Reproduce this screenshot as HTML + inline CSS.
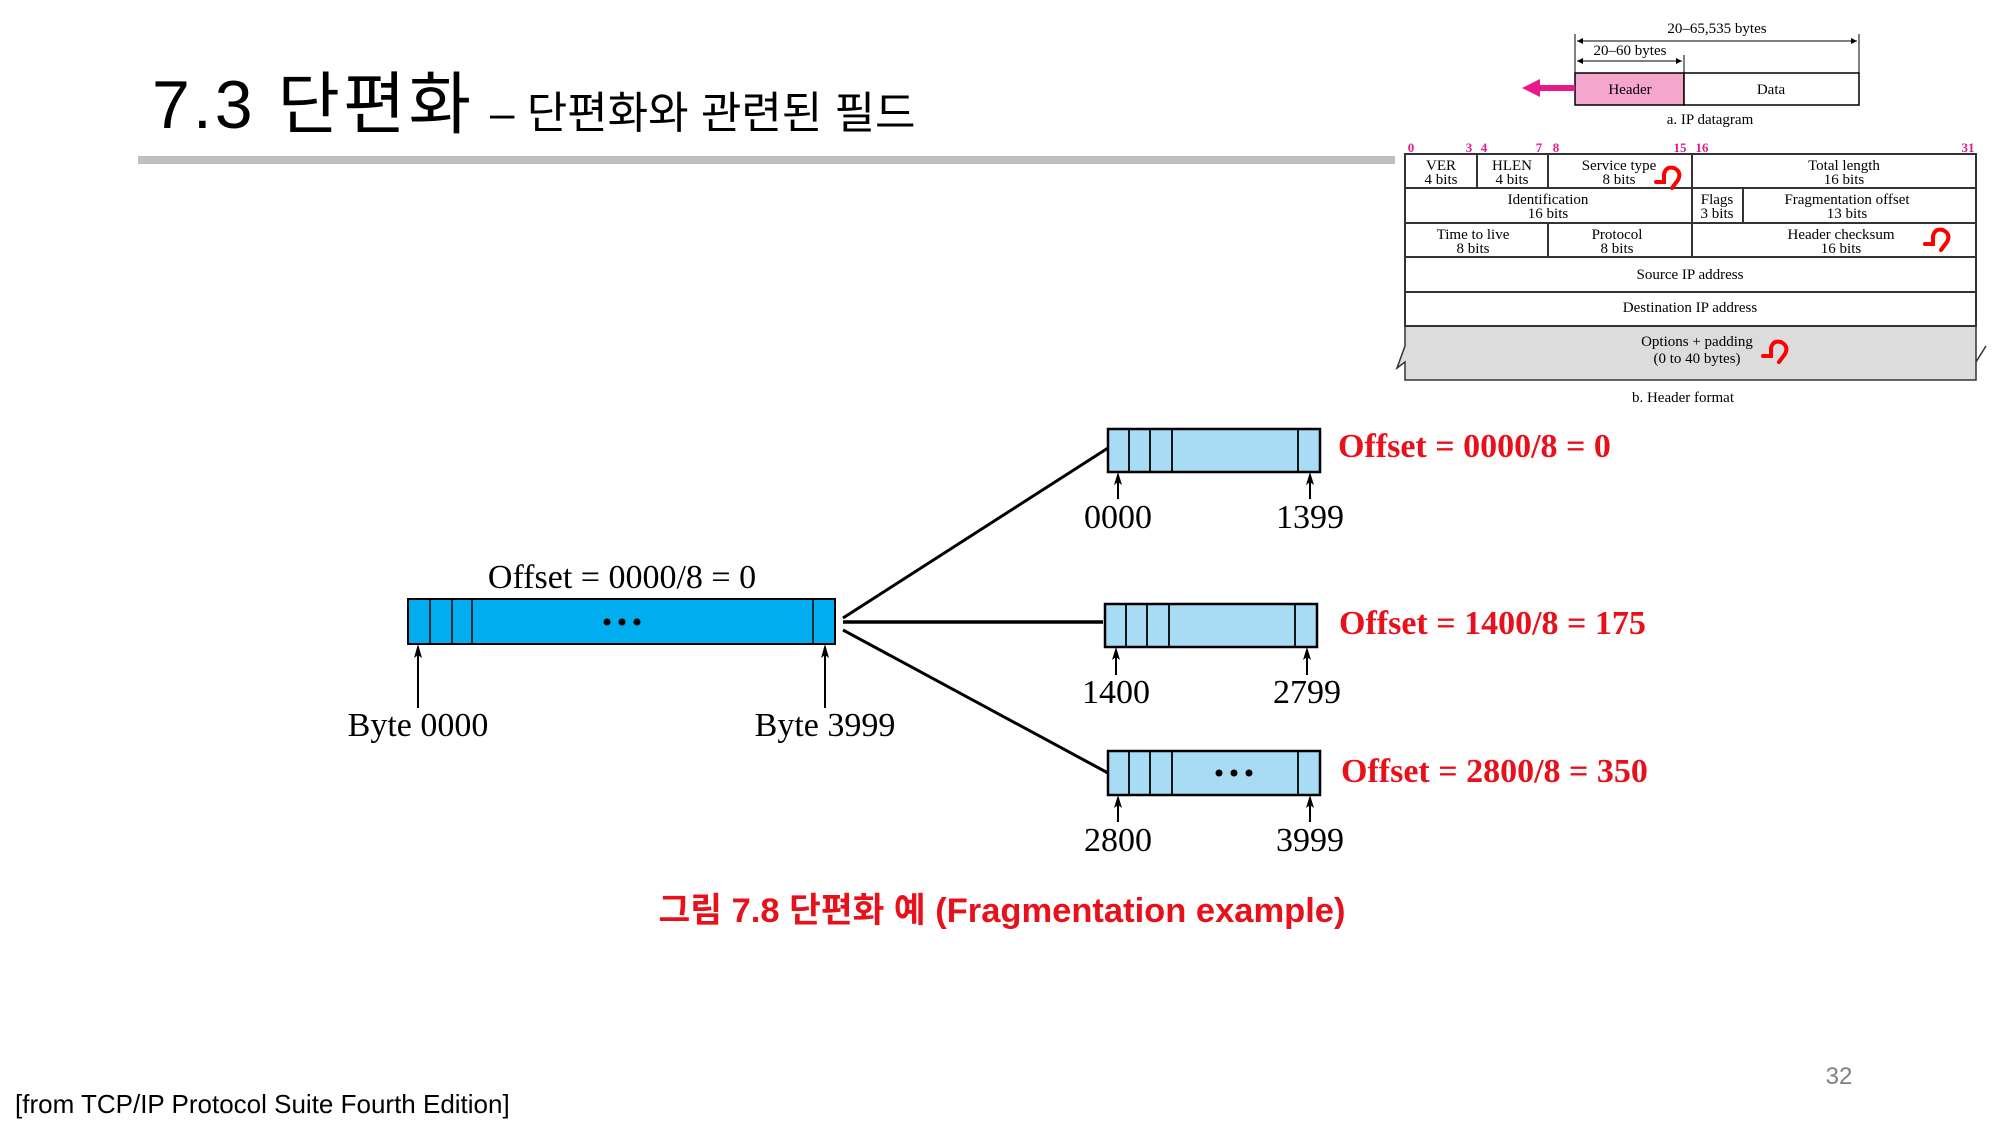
<!DOCTYPE html>
<html><head><meta charset="utf-8"><style>
html,body{margin:0;padding:0;background:#fff;}
svg{display:block;}
.s{font-family:"Liberation Serif",serif;}
.k{font-family:"Liberation Sans","Noto Sans CJK KR",sans-serif;}
</style></head><body>
<svg width="2000" height="1125" viewBox="0 0 2000 1125" xmlns="http://www.w3.org/2000/svg">
<!-- title -->
<text x="152" y="128" class="k" font-size="68" fill="#000" letter-spacing="3">7.3 단편화</text>
<text x="490" y="128" class="k" font-size="44" fill="#000">– 단편화와 관련된 필드</text>
<rect x="138" y="156" width="1257" height="8" fill="#bfbfbf"/>

<!-- IP datagram -->
<g class="s" font-size="15" fill="#000">
<line x1="1575" y1="34" x2="1575" y2="73" stroke="#000" stroke-width="1"/>
<line x1="1859" y1="34" x2="1859" y2="73" stroke="#000" stroke-width="1"/>
<line x1="1684" y1="55" x2="1684" y2="73" stroke="#000" stroke-width="1"/>
<line x1="1577" y1="41" x2="1857" y2="41" stroke="#000" stroke-width="1"/>
<path d="M1577,41 l6,-3 v6z M1857,41 l-6,-3 v6z" fill="#000"/>
<line x1="1577" y1="61" x2="1682" y2="61" stroke="#000" stroke-width="1"/>
<path d="M1577,61 l6,-3 v6z M1682,61 l-6,-3 v6z" fill="#000"/>
<text x="1717" y="33" text-anchor="middle">20–65,535 bytes</text>
<text x="1630" y="55" text-anchor="middle">20–60 bytes</text>
<rect x="1575" y="73" width="109" height="32" fill="#f4a6cc" stroke="#000" stroke-width="1.5"/>
<rect x="1684" y="73" width="175" height="32" fill="#fff" stroke="#000" stroke-width="1.5"/>
<text x="1630" y="94" text-anchor="middle">Header</text>
<text x="1771" y="94" text-anchor="middle">Data</text>
<rect x="1537" y="85" width="38" height="6" fill="#e8198b"/>
<path d="M1522,88 L1540,79 L1540,97 Z" fill="#e8198b"/>
<text x="1710" y="124" text-anchor="middle">a. IP datagram</text>
</g>

<!-- header format -->
<g class="s" font-size="15" fill="#000">
<g font-size="13" font-weight="bold" fill="#e8198b" text-anchor="middle">
<text x="1411" y="152">0</text><text x="1469" y="152">3</text><text x="1484" y="152">4</text><text x="1539" y="152">7</text><text x="1556" y="152">8</text><text x="1680" y="152">15</text><text x="1702" y="152">16</text><text x="1968" y="152">31</text>
</g>
<path d="M1405,326 H1976 V362 L1986,346 L1976,362 V380 H1405 V362 L1397,368 L1405,346 Z" fill="#dcdcdc" stroke="#333" stroke-width="1.5"/>
<g fill="none" stroke="#333" stroke-width="2">
<rect x="1405" y="154" width="571" height="172"/>
<line x1="1405" y1="188" x2="1976" y2="188"/>
<line x1="1405" y1="223" x2="1976" y2="223"/>
<line x1="1405" y1="257" x2="1976" y2="257"/>
<line x1="1405" y1="292" x2="1976" y2="292"/>
<line x1="1477" y1="154" x2="1477" y2="188"/>
<line x1="1548" y1="154" x2="1548" y2="188"/>
<line x1="1692" y1="154" x2="1692" y2="257"/>
<line x1="1743" y1="188" x2="1743" y2="223"/>
<line x1="1548" y1="223" x2="1548" y2="257"/>
</g>
<g text-anchor="middle">
<text x="1441" y="170">VER</text><text x="1441" y="184">4 bits</text>
<text x="1512" y="170">HLEN</text><text x="1512" y="184">4 bits</text>
<text x="1619" y="170">Service type</text><text x="1619" y="184">8 bits</text>
<text x="1844" y="170">Total length</text><text x="1844" y="184">16 bits</text>
<text x="1548" y="204">Identification</text><text x="1548" y="218">16 bits</text>
<text x="1717" y="204">Flags</text><text x="1717" y="218">3 bits</text>
<text x="1847" y="204">Fragmentation offset</text><text x="1847" y="218">13 bits</text>
<text x="1473" y="239">Time to live</text><text x="1473" y="253">8 bits</text>
<text x="1617" y="239">Protocol</text><text x="1617" y="253">8 bits</text>
<text x="1841" y="239">Header checksum</text><text x="1841" y="253">16 bits</text>
<text x="1690" y="279">Source IP address</text>
<text x="1690" y="312">Destination IP address</text>
<text x="1697" y="346">Options + padding</text><text x="1697" y="363">(0 to 40 bytes)</text>
<text x="1683" y="402">b. Header format</text>
</g>
<g fill="none" stroke="#f00" stroke-width="4" stroke-linecap="round">
<path d="M1656,182 h8 v-8 q2,-8 10,-6 q8,4 4,12 l-6,8"/>
<path d="M1925,244 h8 v-8 q2,-8 10,-6 q8,4 4,12 l-6,8"/>
<path d="M1763,356 h8 v-8 q2,-8 10,-6 q8,4 4,12 l-6,8"/>
</g>
</g>

<!-- main diagram -->
<g stroke="#000">
<rect x="408" y="599" width="427" height="45" fill="#00aeef" stroke-width="2"/>
<line x1="430" y1="599" x2="430" y2="644" stroke-width="1.5"/>
<line x1="452" y1="599" x2="452" y2="644" stroke-width="1.5"/>
<line x1="472" y1="599" x2="472" y2="644" stroke-width="1.5"/>
<line x1="813" y1="599" x2="813" y2="644" stroke-width="1.5"/>
<line x1="843" y1="618" x2="1108" y2="448" stroke-width="3"/>
<line x1="843" y1="622" x2="1103" y2="622" stroke-width="3.5"/>
<line x1="843" y1="630" x2="1108" y2="773" stroke-width="3"/>
<g stroke-width="2.5" fill="#a8dcf5">
<rect x="1108" y="429" width="212" height="43"/>
<rect x="1105" y="604" width="212" height="43"/>
<rect x="1108" y="751" width="212" height="44"/>
</g>
<g stroke-width="1.8">
<path d="M1129,429v43M1150,429v43M1172,429v43M1298,429v43"/>
<path d="M1126,604v43M1147,604v43M1169,604v43M1295,604v43"/>
<path d="M1129,751v44M1150,751v44M1172,751v44M1298,751v44"/>
</g>
<g stroke-width="2">
<line x1="418" y1="708" x2="418" y2="655"/>
<line x1="825" y1="708" x2="825" y2="655"/>
<line x1="1118" y1="499" x2="1118" y2="482"/>
<line x1="1310" y1="499" x2="1310" y2="482"/>
<line x1="1116" y1="675" x2="1116" y2="657"/>
<line x1="1307" y1="675" x2="1307" y2="657"/>
<line x1="1118" y1="822" x2="1118" y2="805"/>
<line x1="1310" y1="822" x2="1310" y2="805"/>
</g>
</g>
<g fill="#000">
<path d="M418,644 l-4,14 l4,-3 l4,3z M825,644 l-4,14 l4,-3 l4,3z M1118,472 l-4,13 l4,-3 l4,3z M1310,472 l-4,13 l4,-3 l4,3z M1116,647 l-4,13 l4,-3 l4,3z M1307,647 l-4,13 l4,-3 l4,3z M1118,795 l-4,13 l4,-3 l4,3z M1310,795 l-4,13 l4,-3 l4,3z"/>
<circle cx="607" cy="622" r="3.5"/><circle cx="622" cy="622" r="3.5"/><circle cx="637" cy="622" r="3.5"/>
<circle cx="1219" cy="773" r="3.5"/><circle cx="1234" cy="773" r="3.5"/><circle cx="1249" cy="773" r="3.5"/>
</g>
<g class="s" font-size="34" fill="#000" text-anchor="middle">
<text x="622" y="588">Offset = 0000/8 = 0</text>
<text x="418" y="736">Byte 0000</text>
<text x="825" y="736">Byte 3999</text>
<text x="1118" y="528">0000</text><text x="1310" y="528">1399</text>
<text x="1116" y="703">1400</text><text x="1307" y="703">2799</text>
<text x="1118" y="851">2800</text><text x="1310" y="851">3999</text>
</g>
<g class="s" font-size="34" font-weight="bold" fill="#e8101a">
<text x="1338" y="457">Offset = 0000/8 = 0</text>
<text x="1339" y="634">Offset = 1400/8 = 175</text>
<text x="1341" y="782">Offset = 2800/8 = 350</text>
</g>
<text x="1002" y="922" class="k" font-size="34.5" font-weight="bold" fill="#e8101a" text-anchor="middle">그림 7.8 단편화 예 (Fragmentation example)</text>
<text x="1839" y="1084" class="k" font-size="24" fill="#7f7f7f" text-anchor="middle">32</text>
<text x="15" y="1113" class="k" font-size="26" fill="#000">[from TCP/IP Protocol Suite Fourth Edition]</text>
</svg>
</body></html>
